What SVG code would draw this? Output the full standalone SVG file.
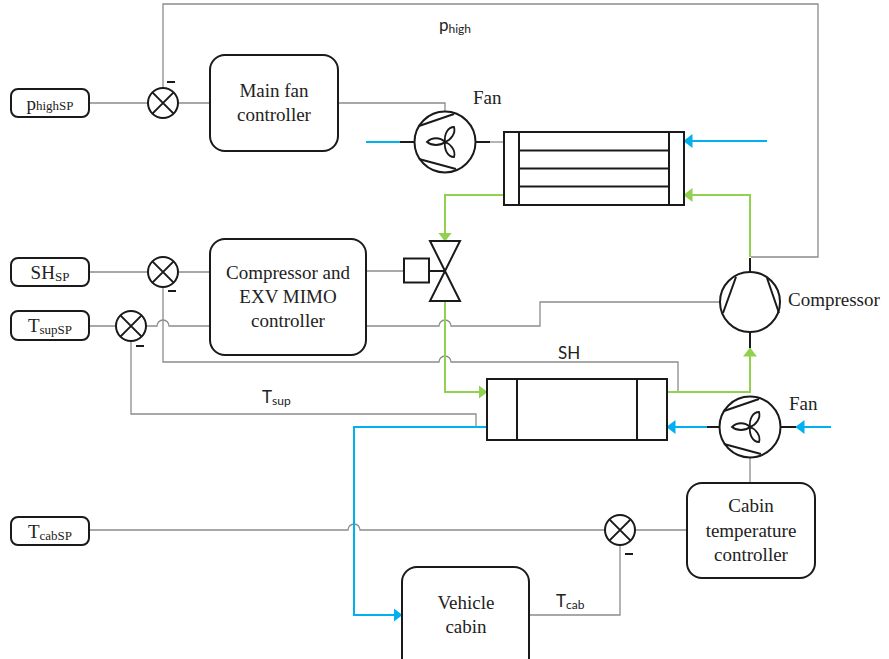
<svg xmlns="http://www.w3.org/2000/svg" width="889" height="659" viewBox="0 0 889 659">
<style>
.bk{fill:none;stroke:#1a1a1a;stroke-width:2}
.bf{fill:#fff;stroke:#1a1a1a;stroke-width:2}
.sig{fill:none;stroke:#8c8c8c;stroke-width:1.3}
.grn{fill:none;stroke:#92d050;stroke-width:2}
.blu{fill:none;stroke:#00b0f0;stroke-width:2}
.sm{fill:#1a1a1a;stroke:none}
text{fill:#222}
.s{font-family:"Liberation Serif",serif;font-size:19px}
.m{text-anchor:middle}
.l{font-family:"Lato","Open Sans",sans-serif;font-size:17px}
.sub{font-size:13px}
.lsub{font-size:12px}
</style>
<defs>
<marker id="ag" markerUnits="userSpaceOnUse" markerWidth="9" markerHeight="14" viewBox="0 0 9 14" refX="8.5" refY="7" orient="auto"><path d="M0 0L9 7L0 14Z" fill="#92d050"/></marker>
<marker id="ab" markerUnits="userSpaceOnUse" markerWidth="9" markerHeight="14" viewBox="0 0 9 14" refX="8.5" refY="7" orient="auto"><path d="M0 0L9 7L0 14Z" fill="#00b0f0"/></marker>
<g id="sumj"><circle r="15" class="bf"/><path class="bk" d="M-10.6-10.6L10.6 10.6M-10.6 10.6L10.6-10.6"/></g>
<g id="fanj"><circle r="30.5" class="bf"/><path class="bk" d="M-26-16L9-28M-26 17L11 27"/>
<path d="M0 0C-1-8 3-15 9-15C11-9 6-2 0 0ZM0 0C-5-5-13-5-18 0C-13 4-5 4 0 0ZM0 0C6 2 11 9 9 15C3 15-1 8 0 0Z" fill="#fff" stroke="#1a1a1a" stroke-width="1.8"/></g>
</defs>

<g id="connectors">
<path class="sig" d="M89 103H148M178 103H210"/>
<path class="sig" d="M163 88V4H818V257H751"/>
<path class="sig" d="M338 103H445V112"/>
<path class="sig" d="M490 142H504"/>
<path class="sig" d="M89 272H148M178 272H210"/>
<path class="sig" d="M89 326H116M146 326H157a6 6 0 0 1 12 0H210"/>
<path class="sig" d="M366 271H404"/>
<path class="sig" d="M366 326H439a6 6 0 0 1 12 0H540V302H720"/>
<path class="sig" d="M163 287V362H439a6 6 0 0 1 12 0H678V392"/>
<path class="sig" d="M131 341V414H476V427"/>
<path class="sig" d="M750 457V483"/>
<path class="sig" d="M89 530H348a6 6 0 0 1 12 0H605M635 530H687"/>
<path class="sig" d="M529 615H620V545"/>
<path class="bk" d="M400 142H414M475 142H490M429 271H445M750 258V272M750 332V348M707 427H720M780 427H797"/>
<path class="blu" d="M366 142H400"/>
<path class="blu" marker-end="url(#ab)" d="M767 141H684"/>
<path class="blu" marker-end="url(#ab)" d="M707 427H667"/>
<path class="blu" marker-end="url(#ab)" d="M831 427H796"/>
<path class="blu" marker-end="url(#ab)" d="M487 427H354V615H402"/>
<path class="grn" marker-end="url(#ag)" d="M750 257V195H684"/>
<path class="grn" marker-end="url(#ag)" d="M504 195H445V241"/>
<path class="grn" marker-end="url(#ag)" d="M445 301V392H487"/>
<path class="grn" marker-end="url(#ag)" d="M667 392H750V348"/>
</g>

<g id="sp-phigh"><rect class="bf" x="11" y="89" width="78" height="28" rx="7"/><text class="s m" x="50" y="110" font-size="19">p<tspan class="sub">highSP</tspan></text></g>
<g id="sp-sh"><rect class="bf" x="11" y="258" width="78" height="28" rx="7"/><text class="s m" x="50" y="279">SH<tspan class="sub" dy="2">SP</tspan></text></g>
<g id="sp-tsup"><rect class="bf" x="11" y="311" width="78" height="29" rx="7"/><text class="s m" x="50" y="332">T<tspan class="sub" dy="2">supSP</tspan></text></g>
<g id="sp-tcab"><rect class="bf" x="11" y="517" width="78" height="28" rx="7"/><text class="s m" x="50" y="538">T<tspan class="sub" dy="2">cabSP</tspan></text></g>

<g id="sum-high"><use href="#sumj" x="163" y="103"/><rect class="sm" x="167" y="81" width="8" height="2"/></g>
<g id="sum-sh"><use href="#sumj" x="163" y="272"/><rect class="sm" x="168" y="290" width="8" height="2"/></g>
<g id="sum-sup"><use href="#sumj" x="131" y="326"/><rect class="sm" x="136" y="345" width="8" height="2"/></g>
<g id="sum-cab"><use href="#sumj" x="620" y="530"/><rect class="sm" x="625" y="553" width="8" height="2"/></g>

<g id="main-fan-controller"><rect class="bf" x="210" y="55" width="128" height="96" rx="15"/><text class="s m" x="274" y="97">Main fan</text><text class="s m" x="274" y="121">controller</text></g>
<g id="mimo-controller"><rect class="bf" x="210" y="239" width="156" height="116" rx="15"/><text class="s m" x="288" y="279">Compressor and</text><text class="s m" x="288" y="303">EXV MIMO</text><text class="s m" x="288" y="327">controller</text></g>
<g id="cabin-controller"><rect class="bf" x="687" y="483" width="128" height="95" rx="15"/><text class="s m" x="751" y="512">Cabin</text><text class="s m" x="751" y="537">temperature</text><text class="s m" x="751" y="561">controller</text></g>
<g id="vehicle-cabin"><rect class="bf" x="402" y="567" width="127" height="110" rx="15"/><text class="s m" x="466" y="609">Vehicle</text><text class="s m" x="466" y="633">cabin</text></g>

<g id="fan-top"><use href="#fanj" x="445" y="142"/><text class="s" x="473" y="104">Fan</text></g>
<g id="fan-bottom"><use href="#fanj" x="750" y="427"/><text class="s" x="789" y="410">Fan</text></g>

<g id="condenser"><rect class="bf" x="504" y="132" width="180" height="73"/><path class="bk" d="M519 132V205M669 132V205M519 150.500H669M519 168.500H669M519 186.500H669"/></g>
<g id="evaporator"><rect class="bf" x="487" y="379" width="180" height="61"/><path class="bk" d="M517 379V440M637 379V440"/></g>

<g id="valve"><path class="bf" d="M430 241H460L430 301H460Z"/><rect class="bf" x="404" y="258.500" width="25" height="24"/></g>

<g id="compressor"><circle class="bf" cx="750" cy="302" r="30"/><path class="bk" d="M736 277L723 313M767 278L779 313"/><text class="s" x="788" y="306">Compressor</text></g>

<g id="labels">
<text class="l" x="439" y="31">p<tspan class="lsub" dy="2">high</tspan></text>
<text class="l" x="558" y="359" font-size="16">SH</text>
<text class="l" x="262" y="403">T<tspan class="lsub" dy="2">sup</tspan></text>
<text class="l" x="556" y="607">T<tspan class="lsub" dy="2">cab</tspan></text>
</g>
</svg>
